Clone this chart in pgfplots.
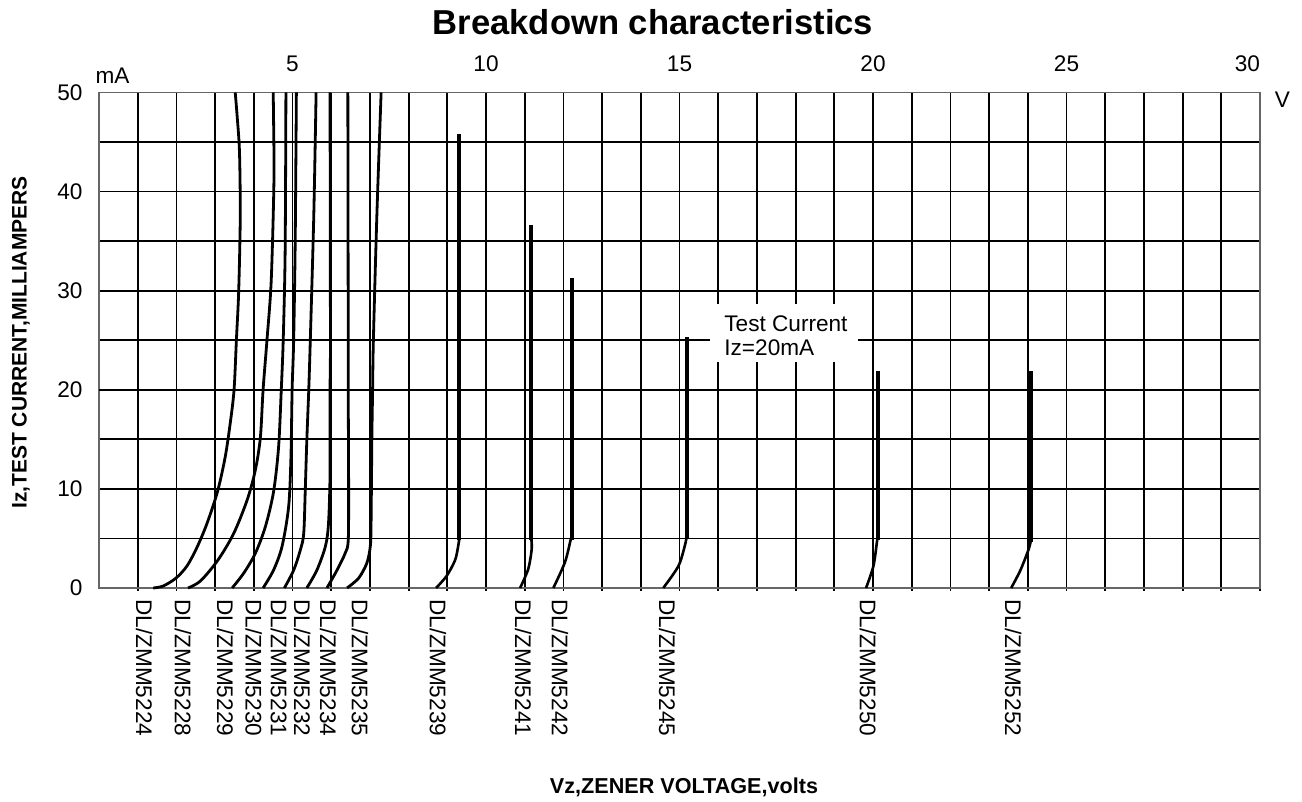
\documentclass[border=0pt]{standalone}
\usepackage{fontspec}
\setmainfont{Liberation Sans}
\usepackage{pgfplots}
\pgfplotsset{compat=1.18}

\newcommand{\lblfont}{\fontsize{11.3}{13}\selectfont}
\tikzset{dev/.style={rotate=-90, anchor=west, inner sep=0pt, font=\lblfont}}

\begin{document}
\begin{tikzpicture}[x=1pt,y=1pt]
\begin{axis}[
    at={(49.5pt,107pt)}, anchor=south west,
    scale only axis, width=580.5pt, height=247.75pt,
    xmin=0, xmax=30, ymin=0, ymax=50,
    xtick={5,10,...,30},
    xticklabels={5,10,15,20,25,{\makebox[0pt][r]{30}}},
    minor xtick={1,2,...,29},
    ytick={0,10,...,50},
    minor ytick={5,15,...,45},
    xticklabel pos=upper,
    xtick pos=lower,
    tick align=outside,
    major tick length=1.5pt, minor tick length=1.5pt,
    xtick style={black, line width=0.9pt},
    ytick style={draw=none},
    grid=both,
    major grid style={black, line width=0.9pt},
    minor grid style={black, line width=0.9pt},
    axis line style={black!60, line width=0.8pt},
    ticklabel style={font=\lblfont},
    /pgf/number format/assume math mode=true,
    xticklabel style={yshift=5.5pt},
    yticklabel style={xshift=-3.25pt},
    clip=false,
]
% test current level
\addplot[black, line width=0.9pt, dash pattern=on 6.5pt off 6pt] coordinates {(0,20) (29.6,20)};

% low voltage devices
\addplot[black, line width=1.4pt, smooth] coordinates {
  (1.40,0) (1.66,0.2) (1.99,1.0) (2.27,2.2) (2.52,4.0) (2.78,6.4) (3.06,9.7)
  (3.26,13.2) (3.39,16.6) (3.49,20) (3.55,25) (3.61,30) (3.65,37.5) (3.63,44)
  (3.57,47.6) (3.52,50)};
\addplot[black, line width=1.4pt, smooth] coordinates {
  (2.30,0) (2.62,0.7) (3.07,2.8) (3.48,5.5) (3.83,8.9) (4.04,11.9) (4.17,15.2)
  (4.24,20) (4.34,25) (4.45,31) (4.52,41) (4.51,47.6) (4.50,50)};
\addplot[black, line width=1.4pt, smooth] coordinates {
  (3.44,0) (3.74,1.5) (4.04,3.5) (4.30,6.2) (4.51,9.7) (4.64,14.2) (4.71,20)
  (4.76,25) (4.81,34) (4.83,50)};
\addplot[black, line width=1.4pt, smooth] coordinates {
  (4.24,0) (4.51,1.8) (4.73,4.2) (4.90,8.2) (4.96,13.2) (4.99,20) (5.03,25)
  (5.07,35) (5.10,50)};
\addplot[black, line width=1.4pt, smooth] coordinates {
  (4.79,0) (5.03,1.8) (5.20,3.8) (5.29,5.5) (5.33,9.9) (5.37,14.9) (5.42,20)
  (5.46,25) (5.55,37.6) (5.61,50)};
\addplot[black, line width=1.4pt, smooth] coordinates {
  (5.37,0) (5.63,1.8) (5.85,4.2) (5.93,6.5) (5.97,11.5) (5.97,20) (5.98,25)
  (5.97,50)};
\addplot[black, line width=1.4pt, smooth] coordinates {
  (5.89,0) (6.15,1.8) (6.36,3.5) (6.44,4.8) (6.45,10) (6.44,20) (6.44,25)
  (6.43,50)};
\addplot[black, line width=1.4pt, smooth] coordinates {
  (6.41,0) (6.71,1.0) (6.92,2.5) (7.01,4.2) (7.03,6.5) (7.05,14.9) (7.07,20)
  (7.09,25) (7.18,37.6) (7.29,50)};

% higher voltage devices: knee, then steep part
\addplot[black, line width=1.3pt, smooth] coordinates {
  (8.71,0) (8.98,1.2) (9.20,2.8) (9.28,4.2) (9.31,5)};
\addplot[black, line width=2pt] coordinates {(9.31,4.8) (9.31,45.8)};
\addplot[black, line width=1.3pt, smooth] coordinates {
  (10.88,0) (11.09,1.9) (11.18,3.9) (11.17,5)};
\addplot[black, line width=2pt] coordinates {(11.16,4.8) (11.16,36.6)};
\addplot[black, line width=1.3pt, smooth] coordinates {
  (11.74,0) (12.04,2.6) (12.19,4.9) (12.22,5.2)};
\addplot[black, line width=2pt] coordinates {(12.22,4.8) (12.22,31.3)};
\addplot[black, line width=1.3pt, smooth] coordinates {
  (14.58,0) (14.97,2.2) (15.14,4.3) (15.19,5.3)};
\addplot[black, line width=2pt] coordinates {(15.19,5) (15.19,25.3)};
\addplot[black, line width=1.3pt, smooth] coordinates {
  (19.82,0) (20.01,2.2) (20.10,4.6) (20.12,5.2)};
\addplot[black, line width=2pt] coordinates {(20.12,4.8) (20.12,21.9)};
\addplot[black, line width=1.3pt, smooth] coordinates {
  (23.57,0) (23.81,1.8) (24.03,4.0) (24.08,4.9)};
\addplot[black, line width=2pt] coordinates {(24.09,4.6) (24.09,21.9)};

% note box
\fill[white] (axis cs:15.79,22.8) rectangle (axis cs:19.61,28.66);
\node[anchor=west, align=left, inner sep=0pt, font=\fontsize{11.3}{12}\selectfont]
  at (axis cs:16.15,25.5) {Test Current\\Iz=20mA};

% device names
\node[dev] at (axis cs:1.17,-1.1) {DL/ZMM5224};
\node[dev] at (axis cs:2.17,-1.1) {DL/ZMM5228};
\node[dev] at (axis cs:3.26,-1.1) {DL/ZMM5229};
\node[dev] at (axis cs:4.00,-1.1) {DL/ZMM5230};
\node[dev] at (axis cs:4.65,-1.1) {DL/ZMM5231};
\node[dev] at (axis cs:5.25,-1.1) {DL/ZMM5232};
\node[dev] at (axis cs:5.92,-1.1) {DL/ZMM5234};
\node[dev] at (axis cs:6.74,-1.1) {DL/ZMM5235};
\node[dev] at (axis cs:8.76,-1.1) {DL/ZMM5239};
\node[dev] at (axis cs:10.96,-1.1) {DL/ZMM5241};
\node[dev] at (axis cs:11.91,-1.1) {DL/ZMM5242};
\node[dev] at (axis cs:14.68,-1.1) {DL/ZMM5245};
\node[dev] at (axis cs:19.87,-1.1) {DL/ZMM5250};
\node[dev] at (axis cs:23.62,-1.1) {DL/ZMM5252};
\end{axis}

\node[font=\bfseries\fontsize{17.3}{20}\selectfont] at (326.5pt,389.75pt) {Breakdown characteristics};
\node[rotate=90, font=\bfseries\fontsize{10.5}{12}\selectfont] at (10.5pt,229.75pt) {Iz,TEST CURRENT,MILLIAMPERS};
\node[font=\bfseries\fontsize{10.8}{12}\selectfont] at (342pt,7.5pt) {Vz,ZENER VOLTAGE,volts};
\node[font=\lblfont] at (56.25pt,363.25pt) {mA};
\node[font=\lblfont] at (641.25pt,351pt) {V};

\pgfresetboundingbox
\path[use as bounding box] (0,0) rectangle (651pt,401pt);
\end{tikzpicture}
\end{document}
